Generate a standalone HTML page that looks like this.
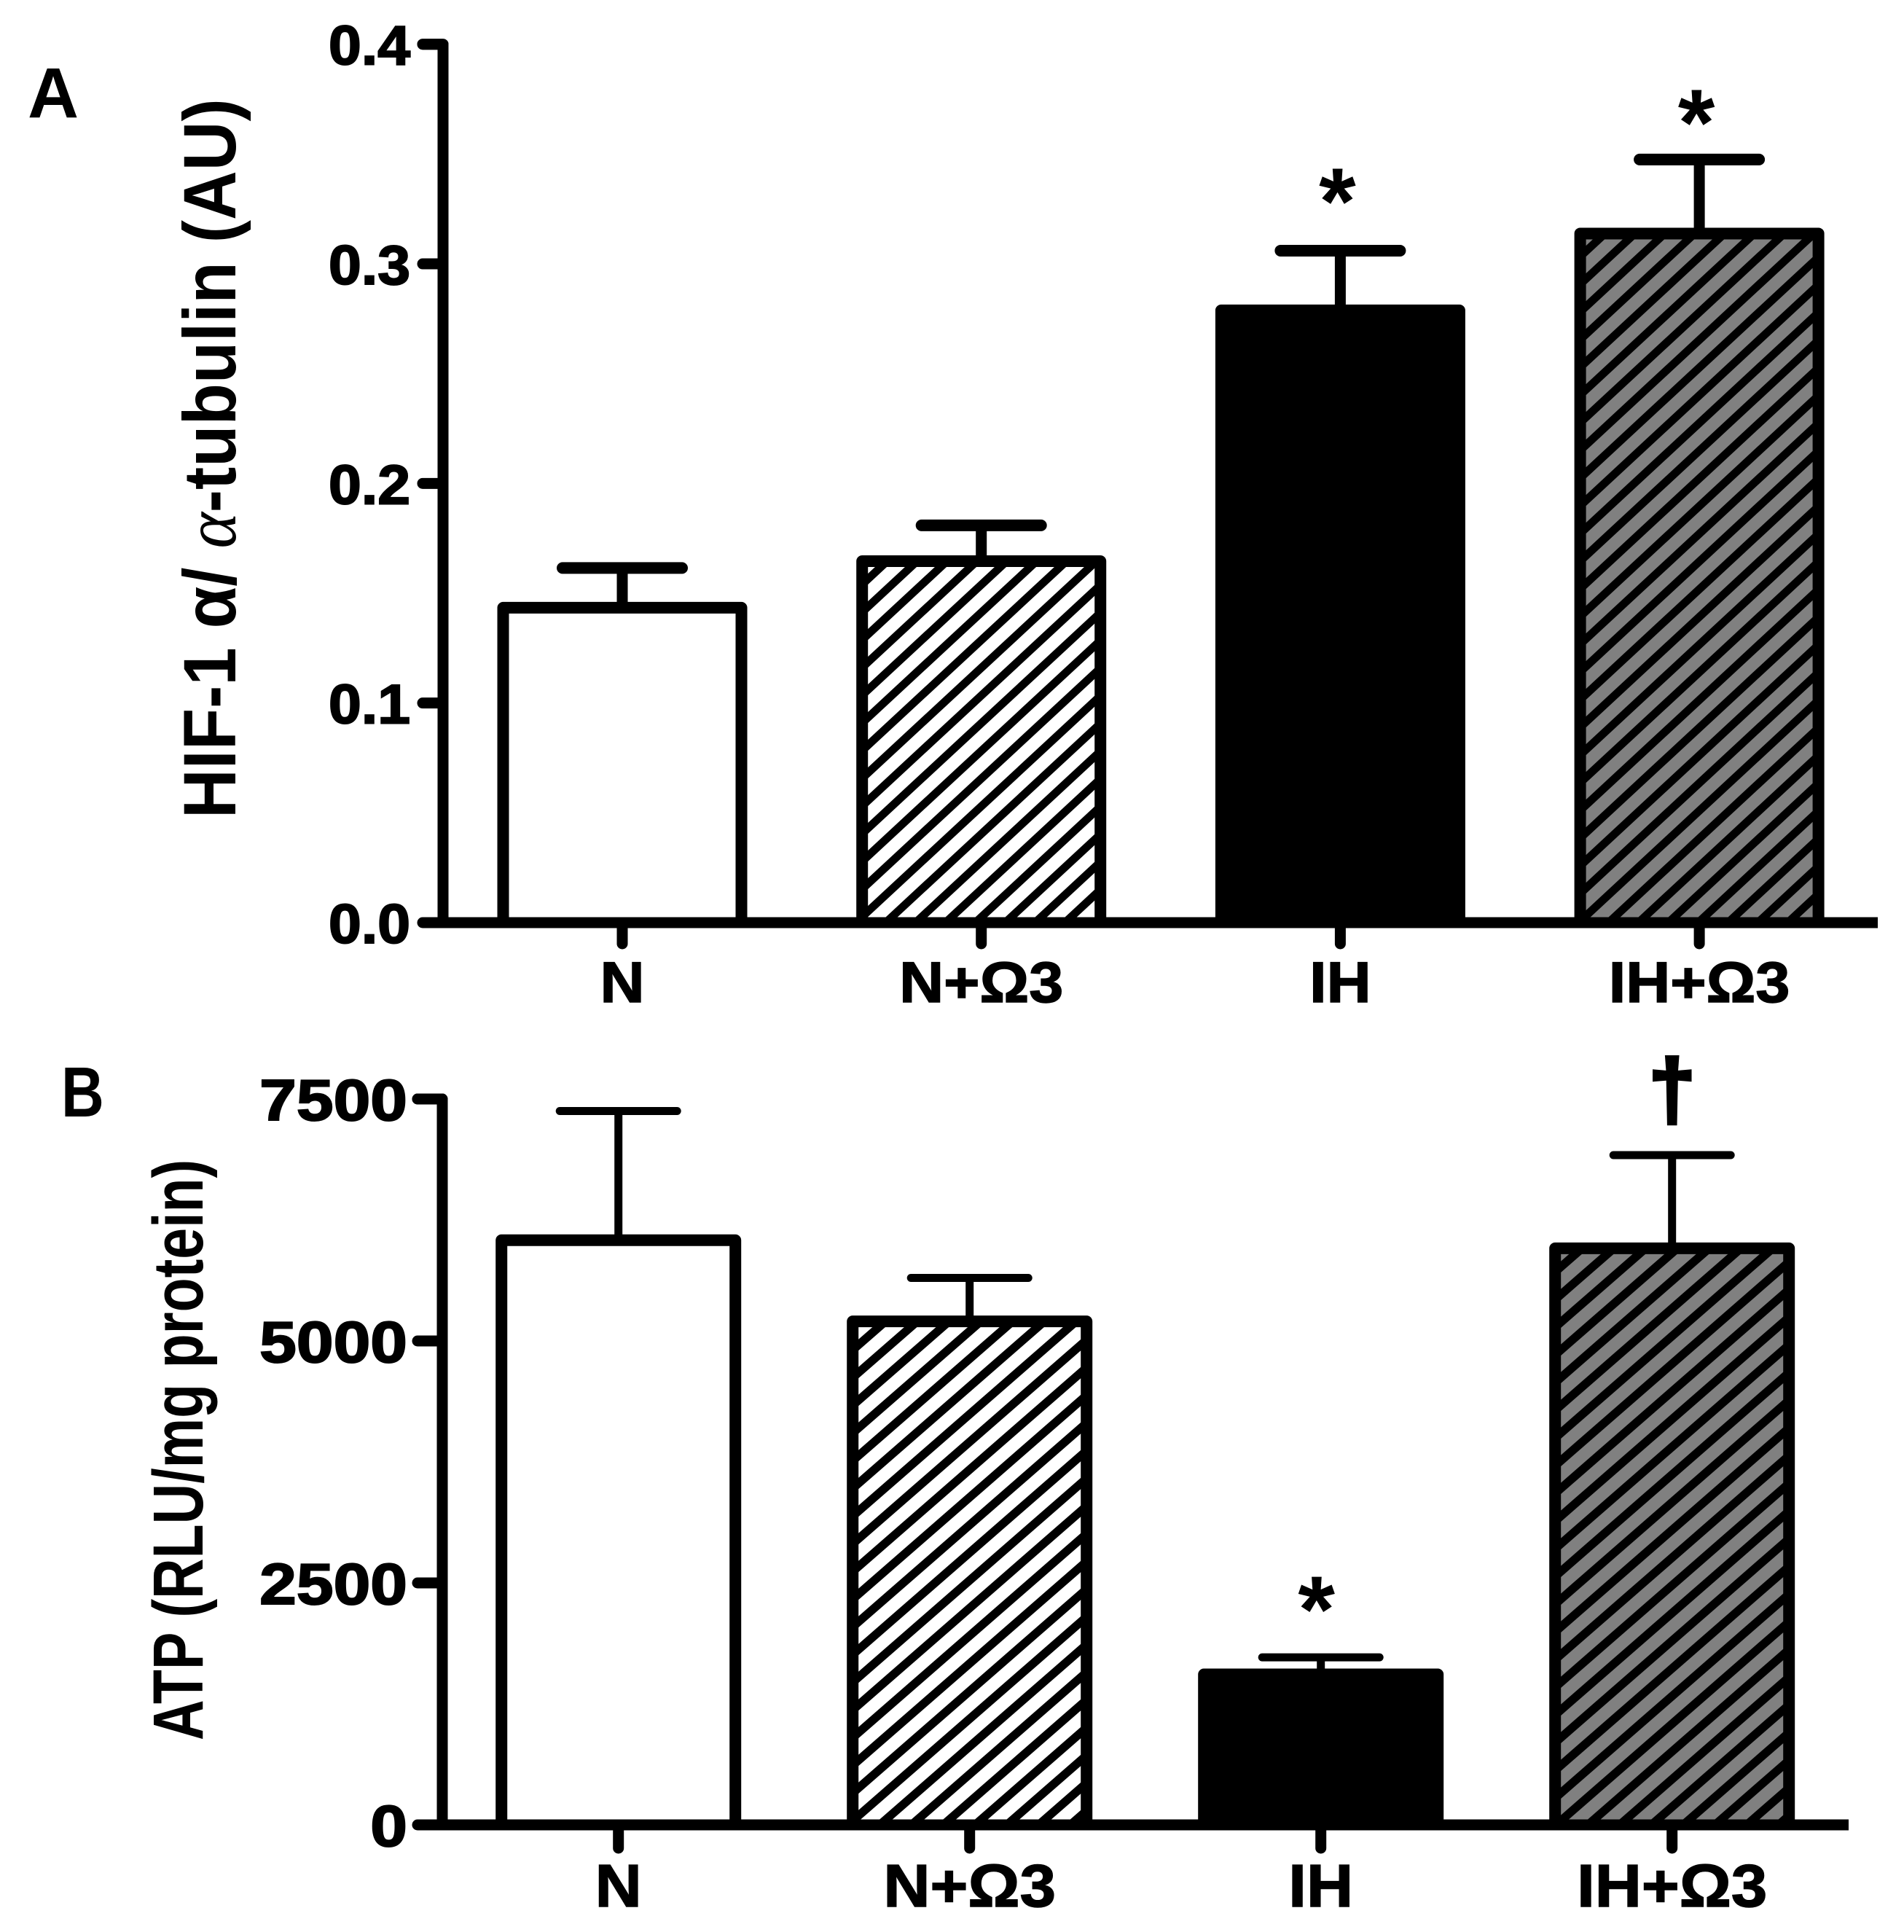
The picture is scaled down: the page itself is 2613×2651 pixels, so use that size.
<!DOCTYPE html>
<html lang="en">
<head>
<meta charset="utf-8">
<title>HIF-1 alpha and ATP bar charts</title>
<style>
html,body{margin:0;padding:0;background:#fff;overflow:hidden;width:2613px;height:2651px;}
svg{display:block;}
text{font-family:"Liberation Sans",sans-serif;font-weight:bold;fill:#000;}
</style>
</head>
<body>
<svg id="figure" xmlns="http://www.w3.org/2000/svg" width="2613" height="2651" viewBox="0 0 2613 2651">
  <rect width="2613" height="2651" fill="#fff"/>
  <defs id="clip-defs"></defs>
  <text x="38" y="161" font-size="97">A</text>
  <text transform="translate(84,1532) scale(.84,1)" font-size="97">B</text>
  <text transform="translate(323,1123) rotate(-90) scale(.92,1)" font-size="102">HIF-1 α/ <tspan font-family="Liberation Serif" font-weight="normal" font-style="italic">α</tspan>-tubulin (AU)</text>
  <text transform="translate(278,2388) rotate(-90) scale(.794,1)" font-size="97">ATP (RLU/mg protein)</text>
  <g id="chart-a"></g>
  <g id="chart-b"></g>
</svg>
<script>
const categories = ['N', 'N+Ω3', 'IH', 'IH+Ω3'];
const fillKinds = ['white', 'hatch-white', 'black', 'hatch-gray'];

const tickValuesA = [0, 0.1, 0.2, 0.3, 0.4];
const tickLabelsA = ['0.0', '0.1', '0.2', '0.3', '0.4'];
const valuesA = [0.1434, 0.1646, 0.2788, 0.3138];
const errorTopsA = [0.1615, 0.1809, 0.306, 0.3475];
const marksA = ['', '', '*', '*'];

const tickValuesB = [0, 2500, 5000, 7500];
const tickLabelsB = ['0', '2500', '5000', '7500'];
const valuesB = [6041, 5202, 1555, 5957];
const errorTopsB = [7376, 5651, 1731, 6920];
const marksB = ['', '', '*', '†'];

const SVG_NS = 'http://www.w3.org/2000/svg';
function mk(parent, tag, attrs, text) {
  const el = document.createElementNS(SVG_NS, tag);
  Object.keys(attrs).forEach(function (k) { el.setAttribute(k, attrs[k]); });
  if (text !== undefined) el.textContent = text;
  parent.appendChild(el);
  return el;
}
function slug(s) {
  return s.toLowerCase().replace('+ω', '-omega').replace(/[^a-z0-9-]/g, '');
}

function drawPanel(root, p, d) {
  const y = function (v) { return p.y0 - (v / d.yMax) * p.yLen; };
  const x = function (i) { return p.x0 + i * p.step; };
  const defs = document.getElementById('clip-defs');

  d.values.forEach(function (value, i) {
    const cx = x(i);
    const lineY = y(value);
    const left = cx - p.barW / 2;
    const right = cx + p.barW / 2;
    const name = slug(categories[i]);
    const kind = fillKinds[i];
    const innerL = left + p.barStroke / 2;
    const innerW = p.barW - p.barStroke;
    const innerH = p.y0 - lineY;

    const stem = mk(root, 'line', {x1: cx, x2: cx, y1: lineY, y2: y(d.errorTops[i]), stroke: '#000', 'stroke-width': p.stemW});
    
    
    const cap = mk(root, 'line', {x1: cx - p.capW / 2, x2: cx + p.capW / 2, y1: y(d.errorTops[i]), y2: y(d.errorTops[i]), stroke: '#000', 'stroke-width': p.capT, 'stroke-linecap': 'round'});
    
    

    const base = kind === 'black' ? '#000' : (kind === 'hatch-gray' ? '#808080' : '#fff');
    const bar = mk(root, 'rect', {x: innerL, y: lineY, width: innerW, height: innerH, fill: base});
    
    

    if (kind.indexOf('hatch') === 0) {
      const h = p.hatch[kind];
      const clipId = 'clip-' + p.id + '-' + i;
      const cp = mk(defs, 'clipPath', {id: clipId});
      mk(cp, 'rect', {x: innerL, y: lineY, width: innerW, height: innerH});
      const L = innerL - 12;
      const R = innerL + innerW + 12;
      const slope = h.perV / h.perH;
      let dPath = '';
      for (let k = -120; k <= 120; k++) {
        const mx = h.ax + k * h.perH;
        const xTop = mx + (h.ay - lineY) / slope;
        const xBot = mx + (h.ay - p.y0) / slope;
        const x1 = Math.max(L, xBot);
        const x2 = Math.min(R, xTop);
        if (x1 < x2) {
          dPath += 'M' + x1 + ' ' + (h.ay - (x1 - mx) * slope) + 'L' + x2 + ' ' + (h.ay - (x2 - mx) * slope);
        }
      }
      const lines = mk(root, 'path', {d: dPath, stroke: '#000', 'stroke-width': h.t, fill: 'none', 'clip-path': 'url(#' + clipId + ')'});
      
      
    }

    const outline = mk(root, 'path', {d: 'M' + innerL + ' ' + p.y0 + 'V' + lineY + 'H' + (right - p.barStroke / 2) + 'V' + p.y0, fill: 'none', stroke: '#000', 'stroke-width': p.barStroke, 'stroke-linejoin': 'round'});
    
    

    if (d.marks[i]) {
      const isDagger = d.marks[i] === '†';
      const attrs = {x: cx + (isDagger ? 0 : p.markDx), y: y(d.errorTops[i]) - p.markLift[i], 'font-size': isDagger ? p.daggerSize : p.starSize, 'text-anchor': 'middle'};
      if (isDagger) {
        attrs.stroke = '#000';
        attrs['stroke-width'] = 5;
      }
      const mark = mk(root, 'text', attrs, d.marks[i]);
      
      
    }
  });

  const top = y(d.yMax);
  const axisY = mk(root, 'path', {d: 'M' + p.tickLeft + ' ' + top + 'H' + p.axisX + 'V' + p.y0, fill: 'none', stroke: '#000', 'stroke-width': p.axisW, 'stroke-linecap': 'round', 'stroke-linejoin': 'round'});
  
  
  const axisX = mk(root, 'rect', {x: p.axisX, y: p.y0 - p.axisW / 2, width: p.xEnd - p.axisX, height: p.axisW, fill: '#000'});
  
  

  d.tickValues.forEach(function (tv, i) {
    const ty = y(tv);
    const tick = mk(root, 'line', {x1: p.tickLeft, x2: p.axisX, y1: ty, y2: ty, stroke: '#000', 'stroke-width': p.axisW, 'stroke-linecap': 'round'});
    
    
    const label = mk(root, 'text', {transform: 'translate(' + p.yLabelRight + ',' + (ty + p.yLabelDy) + ') scale(' + p.yLabelScale + ',1)', 'font-size': p.yLabelSize, 'text-anchor': 'end', stroke: '#000', 'stroke-width': 2}, d.tickLabels[i]);
    
    
  });

  categories.forEach(function (c, i) {
    const cx = x(i);
    const tick = mk(root, 'line', {x1: cx, x2: cx, y1: p.y0, y2: p.xTickEnd, stroke: '#000', 'stroke-width': p.axisW, 'stroke-linecap': 'round'});
    
    
    const label = mk(root, 'text', {transform: 'translate(' + cx + ',' + p.xLabelY + ') scale(' + p.xLabelScale + ',1)', 'font-size': p.xLabelSize, 'text-anchor': 'middle', stroke: '#000', 'stroke-width': 1.5}, c);
    
    
  });
}

drawPanel(document.getElementById('chart-a'), {
  id: 'a', x0: 854, step: 492.7, y0: 1266, yLen: 1205.3,
  barW: 343, barStroke: 16, stemW: 15, capW: 164, capT: 16,
  axisX: 608, axisW: 15, tickLeft: 580, xEnd: 2577, xTickEnd: 1295,
  yLabelRight: 563, yLabelDy: 28, yLabelSize: 76, yLabelScale: 1.06,
  xLabelY: 1375, xLabelSize: 79, xLabelScale: 1.07,
  markDx: -4, markLift: [0, 0, 23, 6], starSize: 130, daggerSize: 115,
  hatch: {
    'hatch-white': {ax: 1209, ay: 778, perH: 41, perV: 38, t: 11},
    'hatch-gray': {ax: 2194.5, ay: 328, perH: 41, perV: 38, t: 11}
  }
}, {yMax: 0.4, values: valuesA, errorTops: errorTopsA, tickValues: tickValuesA, tickLabels: tickLabelsA, marks: marksA});

drawPanel(document.getElementById('chart-b'), {
  id: 'b', x0: 848.7, step: 482, y0: 2504, yLen: 996,
  barW: 337, barStroke: 16, stemW: 11, capW: 161, capT: 11,
  axisX: 607, axisW: 15, tickLeft: 573, xEnd: 2537, xTickEnd: 2536,
  yLabelRight: 559, yLabelDy: 29, yLabelSize: 80, yLabelScale: 1.14,
  xLabelY: 2616, xLabelSize: 83, xLabelScale: 1.07,
  markDx: -6, markLift: [0, 0, 21, 51], starSize: 130, daggerSize: 115,
  hatch: {
    'hatch-white': {ax: 1217.7, ay: 2495, perH: 43.6, perV: 38, t: 11.6},
    'hatch-gray': {ax: 2162, ay: 1721, perH: 43.6, perV: 38, t: 11.6}
  }
}, {yMax: 7500, values: valuesB, errorTops: errorTopsB, tickValues: tickValuesB, tickLabels: tickLabelsB, marks: marksB});
</script>
</body>
</html>
